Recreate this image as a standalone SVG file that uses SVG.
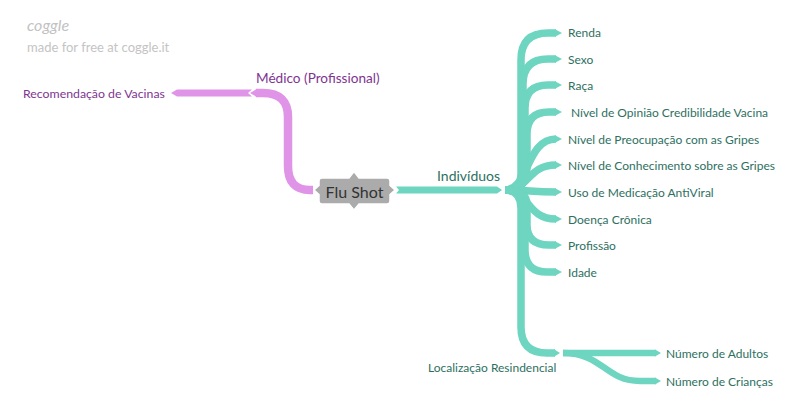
<svg xmlns="http://www.w3.org/2000/svg" width="800" height="419" viewBox="0 0 800 419">
<style>
.tb{fill:none;stroke:#6dd5c0;stroke-width:7.5;stroke-linecap:butt}
.tt{fill:#6dd5c0}
.pb{fill:none;stroke:#df94e8;stroke-width:8.5}
.pt{fill:#df94e8}
.lt{font-family:Lato,"Liberation Sans",sans-serif;font-size:12px;fill:#2e705f;dominant-baseline:central}
.lp{font-family:Lato,"Liberation Sans",sans-serif;fill:#7e3591;dominant-baseline:central}
</style>
<rect width="800" height="419" fill="#ffffff"/>
<g id="watermark">
<text x="27" y="24" font-family="Lato,'DejaVu Sans',sans-serif" font-style="italic" font-size="16" fill="#c2c2c2" dominant-baseline="central">coggle</text>
<text x="27" y="47" font-family="Lato,'Liberation Sans',sans-serif" font-size="13" fill="#c4c4c4" dominant-baseline="central">made for free at coggle.it</text>
</g>
<g id="connectors">
<!-- pink -->
<path class="pb" d="M313,190 L310,190 Q288,190 288,166 L288,117 Q288,93 263,93 L256,93"/>
<polygon class="pt" points="257,88.8 250,93 257,97.2"/>
<polygon class="pt" points="252,89.5 177,89.5 171,93 177,96.5 252,96.5 248,93"/>
<!-- teal main -->
<polygon class="tt" points="396,186.5 497,186.5 502,190 497,193.5 396,193.5 399,190"/>
<!-- children -->
<path class="tb" d="M505,190 Q521,190 521,174 L521,60 Q521,33 548,33 L556,33"/>
<path class="tb" d="M505,190 Q523,190 523,172 L523,84 Q523,59 548,59 L556,59"/>
<path class="tb" d="M505,190 Q525,190 525,170 L525,108 Q525,85 548,85 L556,85"/>
<path class="tb" d="M505,190 Q527,190 527,168 L527,134 Q527,112 549,112 L556,112"/>
<path class="tb" d="M505,190 C529,190 526,139 556,139"/>
<path class="tb" d="M505,190 C530,190 527,165 556,165"/>
<path class="tb" d="M505,190 C530,190 530,192 556,192"/>
<path class="tb" d="M505,190 C530,190 526,219 556,219"/>
<path class="tb" d="M505,190 Q527,190 527,205 L527,225 Q527,245 549,245 L556,245"/>
<path class="tb" d="M505,190 Q525,190 525,207 L525,250 Q525,272 547,272 L556,272"/>
<path class="tb" d="M505,190 Q521,190 521,208 L521,327 Q521,353 547,353 L555,353"/>
<polygon class="tt" points="555,29.2 562,33 555,36.8"/>
<polygon class="tt" points="555,55.2 562,59 555,62.8"/>
<polygon class="tt" points="555,81.2 562,85 555,88.8"/>
<polygon class="tt" points="555,108.2 562,112 555,115.8"/>
<polygon class="tt" points="555,135.2 562,139 555,142.8"/>
<polygon class="tt" points="555,161.2 562,165 555,168.8"/>
<polygon class="tt" points="555,188.2 562,192 555,195.8"/>
<polygon class="tt" points="555,215.2 562,219 555,222.8"/>
<polygon class="tt" points="555,241.2 562,245 555,248.8"/>
<polygon class="tt" points="555,268.2 562,272 555,275.8"/>
<polygon class="tt" points="554,349.2 560,353 554,356.8"/>
<!-- localizacao children -->
<path class="tb" style="stroke-width:6.5" d="M563,353 L656,353"/>
<path class="tb" style="stroke-width:6.5" d="M563,353 C603,353 605,381 640,381 L656,381"/>
<polygon class="tt" points="655,349.5 661,353 655,356.5"/>
<polygon class="tt" points="655,377.5 661,381 655,384.5"/>
</g>
<g id="node-flushot">
<path d="M322,178 L349,178 L354,171.5 L359,178 L387,178 Q390,178 390,181 L390,185.5 L395,190 L390,194.5 L390,201 Q390,204 387,204 L359,204 L354,210 L349,204 L322,204 Q319,204 319,201 L319,194.5 L314,190 L319,185.5 L319,181 Q319,178 322,178 Z" fill="#ababab" stroke="#ffffff" stroke-width="1.5"/>
<text x="354.5" y="191" font-family="Lato,'Liberation Sans',sans-serif" font-size="16" fill="#333333" text-anchor="middle" dominant-baseline="central">Flu Shot</text>
</g>
<g id="node-medico"><text class="lp" x="256" y="78" font-size="13.6">Médico (Profissional)</text></g>
<g id="node-recomendacao"><text class="lp" x="23" y="93" font-size="12.3">Recomendação de Vacinas</text></g>
<g id="node-individuos"><text x="437" y="175" font-family="Lato,'Liberation Sans',sans-serif" font-size="14" fill="#2e705f" dominant-baseline="central">Indivíduos</text></g>
<g id="node-renda"><text class="lt" x="568" y="32">Renda</text></g>
<g id="node-sexo"><text class="lt" x="568" y="59">Sexo</text></g>
<g id="node-raca"><text class="lt" x="568" y="85">Raça</text></g>
<g id="node-opiniao"><text class="lt" x="571" y="112">Nível de Opinião Credibilidade Vacina</text></g>
<g id="node-preocupacao"><text class="lt" x="568" y="139">Nível de Preocupação com as Gripes</text></g>
<g id="node-conhecimento"><text class="lt" x="568" y="165">Nível de Conhecimento sobre as Gripes</text></g>
<g id="node-medicacao"><text class="lt" x="568" y="192">Uso de Medicação AntiViral</text></g>
<g id="node-doenca"><text class="lt" x="568" y="219">Doença Crônica</text></g>
<g id="node-profissao"><text class="lt" x="568" y="245">Profissão</text></g>
<g id="node-idade"><text class="lt" x="568" y="272">Idade</text></g>
<g id="node-localizacao"><text class="lt" x="428" y="367">Localização Resindencial</text></g>
<g id="node-adultos"><text class="lt" x="666" y="353">Número de Adultos</text></g>
<g id="node-criancas"><text class="lt" x="666" y="381">Número de Crianças</text></g>
</svg>
